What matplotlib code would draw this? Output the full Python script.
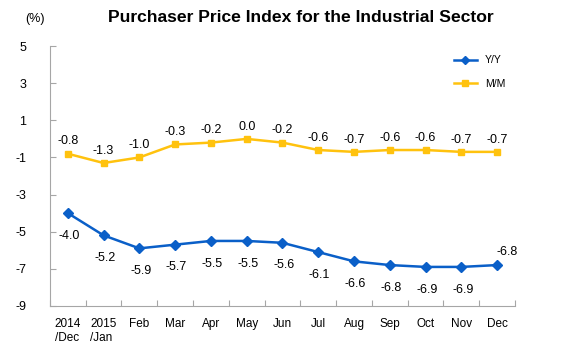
import matplotlib
matplotlib.use("Agg")
import matplotlib.pyplot as plt

plt.rcParams['font.family'] = ['Liberation Sans', 'DejaVu Sans']

months = ['2014\n/Dec', '2015\n/Jan', 'Feb', 'Mar', 'Apr', 'May', 'Jun',
          'Jul', 'Aug', 'Sep', 'Oct', 'Nov', 'Dec']
yoy = [-4.0, -5.2, -5.9, -5.7, -5.5, -5.5, -5.6, -6.1, -6.6, -6.8, -6.9, -6.9, -6.8]
mom = [-0.8, -1.3, -1.0, -0.3, -0.2, 0.0, -0.2, -0.6, -0.7, -0.6, -0.6, -0.7, -0.7]
yticks = [5, 3, 1, -1, -3, -5, -7, -9]

blue = '#0A5FC8'
yellow = '#FFC20E'
gray = '#A6A6A6'

fig = plt.figure(figsize=(5.61, 3.52), dpi=100)
ax = fig.add_axes([0.089, 0.131, 0.829, 0.738])

x = list(range(len(months)))
ax.plot(x, yoy, color=blue, lw=1.8, marker='D', ms=5, label='Y/Y')
ax.plot(x, mom, color=yellow, lw=1.8, marker='s', ms=5, label='M/M')

# labels: M/M above, Y/Y below (last one above-right)
for i, v in enumerate(mom):
    ax.annotate(f'{v:.1f}', (i, v), xytext=(0, 4.5), textcoords='offset points',
                ha='center', va='bottom', fontsize=9)
for i, v in enumerate(yoy):
    if i == len(yoy) - 1:
        off, va = (7, 5), 'bottom'
    else:
        off, va = (1, -12), 'top'
    ax.annotate(f'{v:.1f}', (i, v), xytext=off, textcoords='offset points',
                ha='center', va=va, fontsize=9)

ax.set_xlim(-0.5, len(months) - 0.5)
ax.set_ylim(-9, 5)
ax.set_yticks(yticks)
ax.set_yticklabels([str(t) for t in yticks], fontsize=9)
ax.set_xticks([i - 0.5 for i in range(len(months) + 1)])
ax.set_xticklabels([])
ax.set_xticks(x, minor=True)
ax.set_xticklabels(months, minor=True, fontsize=8.5, ha='center',
                   multialignment='left')
ax.tick_params(axis='x', which='minor', length=0, pad=9)
ax.tick_params(axis='x', which='major', length=4, direction='in', color=gray)
ax.tick_params(axis='y', length=4, direction='in', color=gray, pad=17)

for s in ['top', 'right']:
    ax.spines[s].set_visible(False)
for s in ['left', 'bottom']:
    ax.spines[s].set_color(gray)

ax.legend(loc='upper right', bbox_to_anchor=(1.0, 1.0), frameon=False,
          fontsize=7.5, handlelength=2.2, labelspacing=1.3, markerscale=0.8)

fig.text(0.537, 0.95, 'Purchaser Price Index for the Industrial Sector',
         ha='center', va='center', fontsize=12.6, fontweight='bold')
fig.text(0.062, 0.945, '(%)', ha='center', va='center', fontsize=9)

fig.savefig('out.png', dpi=100)
